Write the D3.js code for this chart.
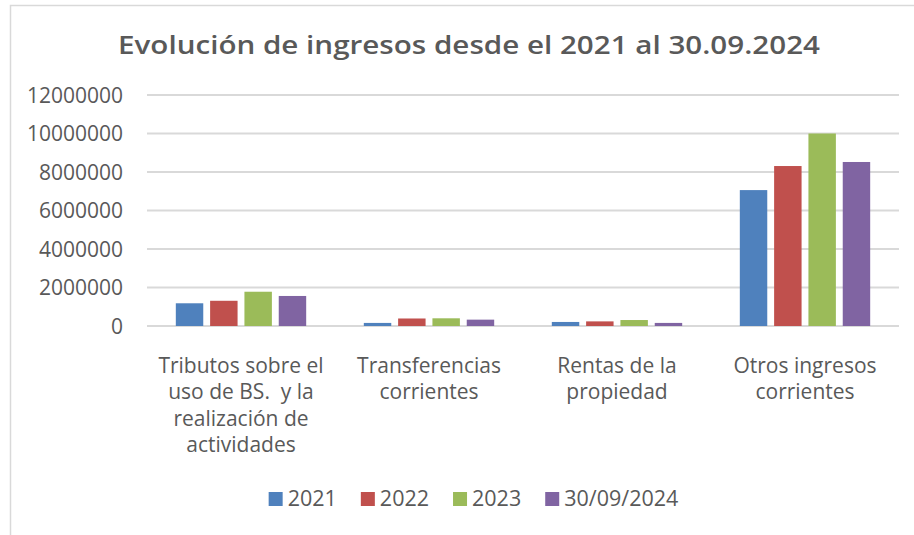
<!DOCTYPE html>
<html>
<head>
<meta charset="utf-8">
<script src="https://cdn.jsdelivr.net/npm/d3@7"></script>
<style>
  body { margin: 0; background: #fff; }
  svg text { white-space: pre; }
</style>
</head>
<body>
<svg width="914" height="535"></svg>
<script>
// data
var categories = ["Tributos", "Transferencias", "Rentas", "Otros"];
var categoryLines = [
  ["Tributos sobre el", "uso de BS.  y la", "realización de", "actividades"],
  ["Transferencias", "corrientes"],
  ["Rentas de la", "propiedad"],
  ["Otros ingresos", "corrientes"]
];
var series = ["2021", "2022", "2023", "30/09/2024"];
var v2021 = [1180000, 160000, 210000, 7060000];
var v2022 = [1310000, 390000, 240000, 8310000];
var v2023 = [1780000, 400000, 310000, 10000000];
var v2024 = [1560000, 330000, 160000, 8520000];
var yTicks = [0, 2000000, 4000000, 6000000, 8000000, 10000000, 12000000];
var colors = ["#4F81BD", "#C0504D", "#9BBB59", "#8064A2"];

var values = [v2021, v2022, v2023, v2024];
var rows = categories.map(function(c, i) {
  return { cat: c, vals: series.map(function(s, j) { return { key: s, value: values[j][i], idx: j }; }) };
});

var svg = d3.select("svg"),
    textColor = "#595959",
    font = "'Open Sans', sans-serif";

// chart frame (left and top edges visible)
svg.append("path")
    .attr("d", "M10.5,535 V5.5 H914")
    .attr("fill", "none")
    .attr("stroke", "#d9d9d9")
    .attr("stroke-width", 1.5);

// title
svg.append("text")
    .attr("x", 469)
    .attr("y", 54)
    .attr("text-anchor", "middle")
    .attr("font-family", font)
    .attr("font-weight", 600)
    .attr("font-size", 26)
    .attr("fill", textColor)
    .attr("textLength", 702)
    .attr("lengthAdjust", "spacingAndGlyphs")
    .text("Evolución de ingresos desde el 2021 al 30.09.2024");

// scales
var x0 = d3.scaleBand()
    .domain(categories)
    .range([147, 899])
    .paddingInner(0.27)
    .paddingOuter(0.135);

var x1 = d3.scaleBand()
    .domain(series)
    .range([0, x0.bandwidth()])
    .paddingInner(0.2)
    .paddingOuter(0.1);

var y = d3.scaleLinear()
    .domain([0, 12000000])
    .range([326, 95]);

// gridlines
svg.append("g")
    .selectAll("line")
    .data(yTicks)
    .enter().append("line")
    .attr("x1", 147)
    .attr("x2", 899)
    .attr("y1", function(d) { return y(d); })
    .attr("y2", function(d) { return y(d); })
    .attr("stroke", "#d9d9d9")
    .attr("stroke-width", 1.8);

// y axis labels
var yAxis = svg.append("g")
    .attr("transform", "translate(131,0)")
    .call(d3.axisLeft(y).tickValues(yTicks).tickFormat(d3.format("d")).tickSize(0).tickPadding(8));
yAxis.select(".domain").remove();
yAxis.selectAll("text")
    .attr("font-family", font)
    .attr("font-size", 21)
    .attr("fill", textColor)
    .attr("dy", "0.35em");

// bars
var group = svg.append("g")
    .selectAll("g")
    .data(rows)
    .enter().append("g")
    .attr("transform", function(d) { return "translate(" + x0(d.cat) + ",0)"; });

group.selectAll("rect")
    .data(function(d) { return d.vals; })
    .enter().append("rect")
    .attr("x", function(d) { return x1(d.key); })
    .attr("y", function(d) { return y(d.value); })
    .attr("width", x1.bandwidth())
    .attr("height", function(d) { return y(0) - y(d.value); })
    .attr("fill", function(d) { return colors[d.idx]; });

// category labels
var catLabel = svg.append("g")
    .selectAll("text")
    .data(categories)
    .enter().append("text")
    .attr("x", function(d) { return x0(d) + x0.bandwidth() / 2; })
    .attr("y", 373)
    .attr("text-anchor", "middle")
    .attr("font-family", font)
    .attr("font-size", 21)
    .attr("fill", textColor);

catLabel.selectAll("tspan")
    .data(function(d, i) { return categoryLines[i]; })
    .enter().append("tspan")
    .attr("x", function() { return d3.select(this.parentNode).attr("x"); })
    .attr("dy", function(d, i) { return i === 0 ? 0 : 26.3; })
    .text(function(d) { return d; });

// legend
var legend = svg.append("g");
var lx = 0;
series.forEach(function(s, i) {
  var item = legend.append("g").attr("transform", "translate(" + lx + ",0)");
  item.append("rect")
      .attr("x", 0).attr("y", 492)
      .attr("width", 14).attr("height", 14)
      .attr("fill", colors[i]);
  var t = item.append("text")
      .attr("x", 19).attr("y", 506)
      .attr("font-family", font)
      .attr("font-size", 21.5)
      .attr("fill", textColor)
      .text(s);
  lx += 19 + t.node().getComputedTextLength() + 24;
});
var legendWidth = lx - 24;
legend.attr("transform", "translate(" + (473.5 - legendWidth / 2) + ",0)");
</script>
</body>
</html>
